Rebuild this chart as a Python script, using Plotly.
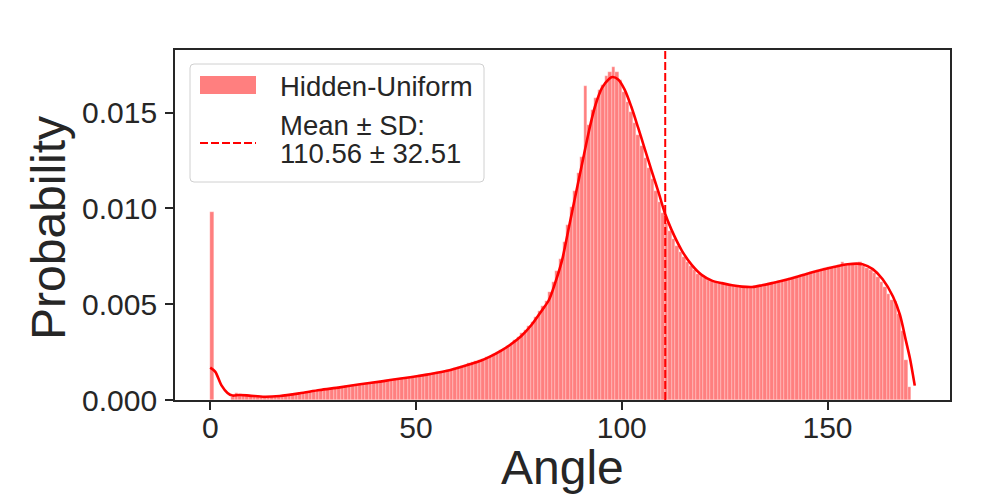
import numpy as np
import plotly.graph_objects as go

# histogram: 200 equal bins between the smallest and largest angle
ANGLE_MIN = 0.0
ANGLE_MAX = 171.2
bar_probability = [
    0.0098, 0, 0, 0, 0, 0, 0.00017, 0.00035, 0.00033, 0.00024,
    0.00022, 0.00022, 0.00020, 0.00019, 0.00018, 0.00017, 0.00017, 0.00018, 0.00019, 0.00020,
    0.00022, 0.00025, 0.00028, 0.00030, 0.00033, 0.00036, 0.00039, 0.00042, 0.00045, 0.00048,
    0.00051, 0.00053, 0.00056, 0.00058, 0.00061, 0.00063, 0.00066, 0.00068, 0.00071, 0.00074,
    0.00077, 0.00080, 0.00082, 0.00085, 0.00088, 0.00090, 0.00092, 0.00095, 0.00097, 0.00100,
    0.00103, 0.00106, 0.00108, 0.00111, 0.00113, 0.00116, 0.00119, 0.00122, 0.00125, 0.00128,
    0.00131, 0.00134, 0.00137, 0.00140, 0.00144, 0.00148, 0.00152, 0.00156, 0.00160, 0.00165,
    0.00171, 0.00177, 0.00184, 0.00191, 0.00197, 0.00203, 0.00210, 0.00216, 0.00222, 0.00229,
    0.00238, 0.00251, 0.00263, 0.00273, 0.00283, 0.00296, 0.00313, 0.00329, 0.00348, 0.00366,
    0.00384, 0.00409, 0.00435, 0.00462, 0.00490, 0.00517, 0.00562, 0.00614, 0.00674, 0.00737,
    0.00826, 0.00915, 0.01005, 0.01093, 0.01183, 0.01271, 0.01640, 0.01437, 0.01515, 0.01575,
    0.01620, 0.01645, 0.01690, 0.01710, 0.01740, 0.01710, 0.01670, 0.01610, 0.01555, 0.01505,
    0.01445, 0.01385, 0.01325, 0.01265, 0.01212, 0.01152, 0.01092, 0.01035, 0.00975, 0.00925,
    0.00883, 0.00843, 0.00806, 0.00774, 0.00747, 0.00720, 0.00697, 0.00677, 0.00659, 0.00645,
    0.00635, 0.00626, 0.00619, 0.00614, 0.00610, 0.00606, 0.00602, 0.00599, 0.00596, 0.00593,
    0.00592, 0.00591, 0.00590, 0.00590, 0.00594, 0.00597, 0.00600, 0.00605, 0.00609, 0.00613,
    0.00618, 0.00622, 0.00627, 0.00632, 0.00636, 0.00642, 0.00647, 0.00652, 0.00658, 0.00663,
    0.00669, 0.00673, 0.00678, 0.00683, 0.00687, 0.00692, 0.00696, 0.00700, 0.00704, 0.00722,
    0.00708, 0.00708, 0.00708, 0.00706, 0.00722, 0.00698, 0.00688, 0.00678, 0.00662, 0.00642,
    0.00615, 0.00592, 0.00555, 0.00520, 0.00515, 0.00450, 0.00362, 0.00210, 0.00070, 0.0,
]

# kde curve (probability scale)
kde_angle = [0, 1.2, 2.7, 4.2, 5.4, 7.1, 9.5, 13.2, 16.9, 21.7, 26.6, 31.5, 36.4, 41.3,
             43.7, 48.6, 53.5, 58.4, 63.3, 65.7, 68.1, 70.7, 73.0, 75.6, 78.0, 80.5,
             82.3, 83.8, 85.5, 87.2, 88.7, 90.4, 92.1, 93.5, 95.2, 96.9, 97.7, 99.2,
             100.7, 102.3, 104.0, 105.6, 107.2, 109.0, 110.4, 112.1, 114.6, 117.0,
             119.4, 121.9, 124.3, 126.8, 129.2, 131.7, 134.1, 136.5, 139.0, 141.4,
             146.3, 151.2, 154.9, 158.5, 161.0, 163.4, 165.9, 167.6, 169.0, 170.0, 171.2]
kde_prob = [0.00169, 0.00148, 0.00078, 0.00037, 0.00023, 0.00026, 0.00023, 0.00017,
            0.00021, 0.00035, 0.00052, 0.00066, 0.00082, 0.00096, 0.00104, 0.00119,
            0.00136, 0.00157, 0.00188, 0.00205, 0.00228, 0.00258, 0.00290, 0.00334,
            0.00390, 0.00465, 0.00522, 0.00610, 0.00730, 0.00906, 0.01062, 0.01237,
            0.01411, 0.01532, 0.01629, 0.01676, 0.01686, 0.01672, 0.01620, 0.01532,
            0.01420, 0.01310, 0.01200, 0.01080, 0.00980, 0.00888, 0.00780, 0.00705,
            0.00653, 0.00623, 0.00610, 0.00599, 0.00592, 0.00590, 0.00599, 0.00610,
            0.00623, 0.00636, 0.00667, 0.00693, 0.00709, 0.00709, 0.00683, 0.00630,
            0.00540, 0.00444, 0.00314, 0.00220, 0.00075]

MEAN = 110.56
SD = 32.51
SERIES = "Hidden-Uniform"

RED = "red"
AXIS = "#262626"
FONT = "Liberation Sans, Arial, sans-serif"

edges = np.linspace(ANGLE_MIN, ANGLE_MAX, len(bar_probability) + 1)
centers = (edges[:-1] + edges[1:]) / 2
width = edges[1] - edges[0]

fig = go.Figure()

fig.add_trace(go.Bar(
    x=centers, y=bar_probability, width=width,
    marker=dict(color="rgba(255,0,0,0.5)", line=dict(color="rgba(255,255,255,0.7)", width=0.4)),
    name=SERIES, showlegend=False,
))

fig.add_trace(go.Scatter(
    x=kde_angle, y=kde_prob, mode="lines",
    line=dict(color=RED, width=2.6, shape="spline", smoothing=0.8),
    showlegend=False,
))

fig.add_vline(x=MEAN, line=dict(color=RED, width=2, dash="8px,3px"))

span = ANGLE_MAX - ANGLE_MIN
ytop = max(bar_probability) * 1.05

axis_style = dict(
    showgrid=False, zeroline=False, automargin=False,
    showline=True, mirror=True, linecolor=AXIS, linewidth=1.8,
    ticks="outside", ticklen=8, tickwidth=1.8, tickcolor=AXIS,
    tickfont=dict(size=30, color=AXIS),
)

# the page adds an 8px body margin, so the figure is 8px smaller and shifted
fig.update_layout(
    width=992, height=492,
    margin=dict(l=167, r=50, t=42, b=100),
    plot_bgcolor="white", paper_bgcolor="white",
    bargap=0,
    font=dict(family=FONT, color=AXIS),
    xaxis=dict(
        range=[ANGLE_MIN - 0.05 * span, ANGLE_MAX + 0.05 * span],
        tickvals=[0, 50, 100, 150], ticklabelstandoff=-8,
        **axis_style,
    ),
    yaxis=dict(
        range=[0, ytop],
        tickvals=[0, 0.005, 0.010, 0.015], tickformat=".3f", ticklabelstandoff=2,
        **axis_style,
    ),
)


# helpers: page pixels -> paper coordinates (plot area 175..950 x 50..400)
def px_x(p):
    return (p - 175) / 775


def px_y(p):
    return (400 - p) / 350


title_font = dict(family=FONT, size=48, color=AXIS)
fig.add_annotation(text="Angle", xref="paper", yref="paper", x=px_x(562), y=px_y(467),
                   xanchor="center", yanchor="middle", showarrow=False, font=title_font)
fig.add_annotation(text="Probability", xref="paper", yref="paper", x=px_x(48), y=px_y(228),
                   xanchor="center", yanchor="middle", textangle=-90, showarrow=False,
                   font=title_font)

# legend drawn by hand to match the wide patch of the original
x0, x1, y0, y1 = px_x(190), px_x(484), px_y(182), px_y(64)
rx, ry = 4 / 775, 4 / 350
box = (f"M {x0 + rx},{y1} L {x1 - rx},{y1} Q {x1},{y1} {x1},{y1 - ry} "
       f"L {x1},{y0 + ry} Q {x1},{y0} {x1 - rx},{y0} L {x0 + rx},{y0} "
       f"Q {x0},{y0} {x0},{y0 + ry} L {x0},{y1 - ry} Q {x0},{y1} {x0 + rx},{y1} Z")
fig.add_shape(type="path", path=box, xref="paper", yref="paper",
              line=dict(color="#d0d0d0", width=1), fillcolor="rgba(255,255,255,0.85)", layer="above")
fig.add_shape(type="rect", xref="paper", yref="paper",
              x0=px_x(200), x1=px_x(256), y0=px_y(94), y1=px_y(76),
              fillcolor="rgba(255,0,0,0.5)", line=dict(width=0), layer="above")
fig.add_shape(type="line", xref="paper", yref="paper",
              x0=px_x(200), x1=px_x(256), y0=px_y(143), y1=px_y(143),
              line=dict(color=RED, width=2, dash="8px,3px"), layer="above")

legend_font = dict(family=FONT, size=27.5, color=AXIS)
for text, yc in [(SERIES, 86), ("Mean ± SD:", 125), (f"{MEAN:.2f} ± {SD:.2f}", 153)]:
    fig.add_annotation(text=text, xref="paper", yref="paper", x=px_x(278), y=px_y(yc),
                       xanchor="left", yanchor="middle", showarrow=False, font=legend_font)

fig.write_html("out.html")
